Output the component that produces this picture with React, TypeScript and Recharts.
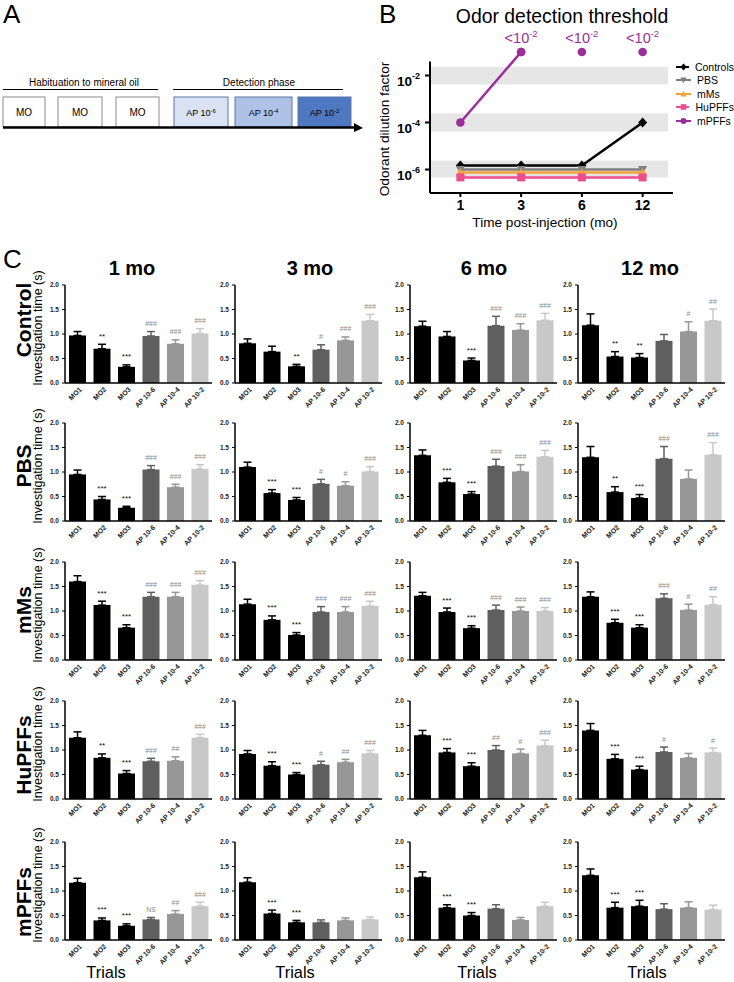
import React from 'react';
import {
  BarChart, Bar, XAxis, YAxis, ErrorBar, LineChart, Line,
  ReferenceArea, ReferenceLine, Legend,
} from 'recharts';

const FONT = '"Liberation Sans", Arial, Helvetica, sans-serif';

// ---------- Panel B data ----------
const TIMEPOINTS = ['1', '3', '6', '12'];
const THR_CONTROLS = [1.48e-6, 1.48e-6, 1.48e-6, 1e-4];
const THR_PBS = [1e-6, 1e-6, 1e-6, 1e-6];
const THR_MMS = [7.4e-7, 7.4e-7, 7.4e-7, 7.4e-7];
const THR_HUPFFS = [4.6e-7, 4.6e-7, 4.6e-7, 4.6e-7];
const THR_MPFFS = [1e-4, 0.1, 0.1, 0.1];
const THR_MPFFS_OFFSCALE = [false, true, true, true];
const THR_Y_TICKS = [1e-6, 1e-4, 1e-2];
const THR_BANDS = [[-2.38, -1.63], [-4.38, -3.62], [-6.34, -5.62]];
const THR_SERIES = ['Controls', 'PBS', 'mMs', 'HuPFFs', 'mPFFs'];

// ---------- Panel C data ----------
const TRIALS = ['MO1', 'MO2', 'MO3', 'AP 10-6', 'AP 10-4', 'AP 10-2'];
const MONTHS = ['1 mo', '3 mo', '6 mo', '12 mo'];
const Y_TICKS = [0, 0.5, 1, 1.5, 2];

const CONTROL_MEAN = [
  [0.97, 0.70, 0.33, 0.96, 0.80, 1.01],
  [0.81, 0.64, 0.34, 0.68, 0.87, 1.27],
  [1.16, 0.95, 0.46, 1.17, 1.08, 1.28],
  [1.18, 0.54, 0.52, 0.86, 1.05, 1.27],
];
const CONTROL_SEM = [
  [0.08, 0.09, 0.04, 0.09, 0.08, 0.10],
  [0.09, 0.11, 0.04, 0.10, 0.07, 0.13],
  [0.10, 0.10, 0.05, 0.19, 0.13, 0.14],
  [0.23, 0.10, 0.08, 0.13, 0.20, 0.24],
];
const CONTROL_SIG = [
  ['', '**', '***', '###', '###', '###'],
  ['', '', '**', '#', '###', '###'],
  ['', '', '***', '###', '###', '###'],
  ['', '**', '**', '', '#', '##'],
];

const PBS_MEAN = [
  [0.95, 0.44, 0.27, 1.05, 0.69, 1.06],
  [1.10, 0.57, 0.43, 0.76, 0.72, 1.01],
  [1.34, 0.79, 0.55, 1.12, 1.01, 1.31],
  [1.30, 0.59, 0.47, 1.27, 0.86, 1.35],
];
const PBS_SEM = [
  [0.09, 0.06, 0.03, 0.08, 0.06, 0.09],
  [0.10, 0.07, 0.05, 0.09, 0.08, 0.10],
  [0.11, 0.08, 0.05, 0.14, 0.14, 0.13],
  [0.22, 0.11, 0.07, 0.25, 0.18, 0.25],
];
const PBS_SIG = [
  ['', '***', '***', '###', '###', '###'],
  ['', '***', '***', '#', '#', '###'],
  ['', '***', '***', '###', '###', '###'],
  ['', '**', '***', '###', '', '###'],
];

const MMS_MEAN = [
  [1.60, 1.12, 0.66, 1.29, 1.29, 1.53],
  [1.14, 0.82, 0.51, 0.98, 0.98, 1.10],
  [1.31, 0.98, 0.65, 1.02, 1.00, 1.00],
  [1.29, 0.76, 0.66, 1.26, 1.02, 1.13],
];
const MMS_SEM = [
  [0.12, 0.08, 0.06, 0.09, 0.09, 0.09],
  [0.10, 0.08, 0.05, 0.11, 0.11, 0.10],
  [0.07, 0.08, 0.05, 0.10, 0.08, 0.07],
  [0.10, 0.07, 0.06, 0.09, 0.12, 0.16],
];
const MMS_SIG = [
  ['', '***', '***', '###', '###', '###'],
  ['', '***', '***', '###', '###', '###'],
  ['', '***', '***', '###', '###', '###'],
  ['', '***', '***', '###', '#', '##'],
];

const HUPFFS_MEAN = [
  [1.25, 0.84, 0.52, 0.77, 0.78, 1.25],
  [0.92, 0.68, 0.50, 0.70, 0.75, 0.93],
  [1.30, 0.95, 0.67, 1.00, 0.93, 1.09],
  [1.40, 0.82, 0.60, 0.96, 0.84, 0.95],
];
const HUPFFS_SEM = [
  [0.12, 0.08, 0.06, 0.06, 0.08, 0.07],
  [0.07, 0.08, 0.04, 0.07, 0.06, 0.06],
  [0.10, 0.08, 0.07, 0.09, 0.09, 0.11],
  [0.14, 0.09, 0.07, 0.10, 0.09, 0.09],
];
const HUPFFS_SIG = [
  ['', '**', '***', '###', '##', '###'],
  ['', '***', '***', '#', '##', '###'],
  ['', '***', '***', '##', '#', '###'],
  ['', '***', '***', '#', '', '#'],
];

const MPFFS_MEAN = [
  [1.17, 0.40, 0.29, 0.42, 0.53, 0.69],
  [1.18, 0.54, 0.36, 0.36, 0.40, 0.42],
  [1.28, 0.66, 0.50, 0.64, 0.41, 0.69],
  [1.32, 0.66, 0.69, 0.63, 0.66, 0.62],
];
const MPFFS_SEM = [
  [0.09, 0.05, 0.04, 0.04, 0.07, 0.08],
  [0.09, 0.07, 0.04, 0.05, 0.05, 0.05],
  [0.11, 0.06, 0.06, 0.08, 0.05, 0.08],
  [0.13, 0.11, 0.12, 0.11, 0.12, 0.09],
];
const MPFFS_SIG = [
  ['', '***', '***', 'NS', '##', '###'],
  ['', '***', '***', '', '', ''],
  ['', '***', '***', '', '', ''],
  ['', '***', '***', '', '', ''],
];

const GROUPS = [
  { label: 'Control', mean: CONTROL_MEAN, sem: CONTROL_SEM, sig: CONTROL_SIG },
  { label: 'PBS', mean: PBS_MEAN, sem: PBS_SEM, sig: PBS_SIG },
  { label: 'mMs', mean: MMS_MEAN, sem: MMS_SEM, sig: MMS_SIG },
  { label: 'HuPFFs', mean: HUPFFS_MEAN, sem: HUPFFS_SEM, sig: HUPFFS_SIG },
  { label: 'mPFFs', mean: MPFFS_MEAN, sem: MPFFS_SEM, sig: MPFFS_SIG },
];

// ---------- layout ----------
const COL_AXIS = [65, 235, 410, 578];
const ROW_BOTTOM = [383, 521, 660, 799, 940];
const ROW_LABEL_Y = [320, 466, 610, 755, 902];
const COL_TITLE_X = [132, 310, 484, 650];
const TRIALS_X = [106, 295, 477, 647];
const PLOT_W = 147;
const PLOT_H = 98;
const CW = 30 + PLOT_W + 6;
const CH = 6 + PLOT_H + 32;
const BAR_W = 17;

const BAR_COLORS = ['#000000', '#5f5f5f', '#979797', '#c8c8c8'];
const SERIES_KEYS = ['mo', 'ap6', 'ap4', 'ap2'];
const seriesOf = (i: number) => (i < 3 ? 0 : i - 2);

function TrialTick(p: any) {
  const x = Number(p.x);
  const y = Number(p.y);
  const v = p.payload ? p.payload.value : '';
  return (
    <g transform={`translate(${x + 5},${y + 5}) rotate(-45)`}>
      <text x={0} y={0} textAnchor="end" fontSize={7} fontWeight="bold" fill="#222" fontFamily={FONT}>
        {v}
      </text>
    </g>
  );
}

function SigMark(p: any) {
  const s = p.payload && p.payload.sig;
  if (!s) return <g />;
  const isStar = s.charAt(0) === '*';
  const x = Number(p.x) + Number(p.width) / 2;
  const y = Number(p.y) - 5.5;
  return (
    <text x={x} y={y} textAnchor="middle" fontSize={isStar ? 8 : 7} fill={isStar ? '#111' : '#8c8c8c'} fontFamily={FONT}>
      {s}
    </text>
  );
}

function TrialChart({ mean, sem, sig, left, top }: any) {
  const data = TRIALS.map((name, i) => {
    const row: any = { name, ann: mean[i] + sem[i], sig: sig[i] };
    SERIES_KEYS.forEach((k, s) => {
      row[k] = seriesOf(i) === s ? mean[i] : null;
      row[k + 'Err'] = seriesOf(i) === s ? [0, sem[i]] : null;
    });
    return row;
  });
  return (
    <div style={{ position: 'absolute', left, top }}>
      <BarChart
        width={CW}
        height={CH}
        data={data}
        barGap={-BAR_W}
        margin={{ top: 6, right: 6, left: 4, bottom: 0 }}
      >
        <XAxis
          dataKey="name"
          type="category"
          interval={0}
          axisLine={{ stroke: '#000', strokeWidth: 1.5 }}
          tickLine={false}
          tickSize={2}
          tickMargin={0}
          height={32}
          tick={(p: any) => <TrialTick {...p} />}
        />
        <YAxis
          type="number"
          domain={[0, 2]}
          ticks={Y_TICKS}
          interval={0}
          width={26}
          axisLine={{ stroke: '#000', strokeWidth: 1.5 }}
          tickLine={{ stroke: '#000', strokeWidth: 1 }}
          tickSize={3}
          tickMargin={3}
          tickFormatter={(v: number) => v.toFixed(1)}
          tick={{ fontSize: 6.5, fontWeight: 'bold', fill: '#222', fontFamily: FONT }}
        />
        {SERIES_KEYS.map((k, s) => (
          <Bar key={k} dataKey={k} fill={BAR_COLORS[s]} barSize={BAR_W} isAnimationActive={false}>
            <ErrorBar dataKey={k + 'Err'} width={4} stroke={BAR_COLORS[s]} strokeWidth={1.5} direction="y" isAnimationActive={false} />
          </Bar>
        ))}
        <Bar
          dataKey="ann"
          fill="none"
          barSize={BAR_W}
          isAnimationActive={false}
          shape={(p: any) => <SigMark {...p} />}
        />
      </BarChart>
    </div>
  );
}

// ---------- Panel B ----------
const SERIES_STYLE: any = {
  Controls: { color: '#000000', shape: 'diamond' },
  PBS: { color: '#7f7f7f', shape: 'down' },
  mMs: { color: '#f2a33a', shape: 'up' },
  HuPFFs: { color: '#ee4d8d', shape: 'square' },
  mPFFs: { color: '#9a2e9a', shape: 'circle' },
};

function Marker({ shape, cx, cy, color, s = 1 }: any) {
  if (cx == null || cy == null || isNaN(cx) || isNaN(cy)) return <g />;
  switch (shape) {
    case 'diamond':
      return <polygon points={`${cx},${cy - 5 * s} ${cx + 4.5 * s},${cy} ${cx},${cy + 5 * s} ${cx - 4.5 * s},${cy}`} fill={color} />;
    case 'down':
      return <polygon points={`${cx - 4.5 * s},${cy - 3.5 * s} ${cx + 4.5 * s},${cy - 3.5 * s} ${cx},${cy + 4.5 * s}`} fill={color} />;
    case 'up':
      return <polygon points={`${cx - 4.5 * s},${cy + 3.5 * s} ${cx + 4.5 * s},${cy + 3.5 * s} ${cx},${cy - 4.5 * s}`} fill={color} />;
    case 'square':
      return <rect x={cx - 4 * s} y={cy - 4 * s} width={8 * s} height={8 * s} fill={color} />;
    default:
      return <circle cx={cx} cy={cy} r={4.3 * s} fill={color} />;
  }
}

function PowTick(p: any) {
  const x = Number(p.x);
  const y = Number(p.y);
  const e = Math.round(Math.log10(p.payload.value));
  return (
    <text x={x} y={y + 10} textAnchor="end" fontSize={13.5} fontWeight="bold" fill="#000" fontFamily={FONT}>
      10<tspan fontSize={9} dy={-7}>{String(e)}</tspan>
    </text>
  );
}

function OffscaleDot(p: any) {
  const { cx, cy, value } = p;
  if (value == null || cy == null || isNaN(cy)) return <g key={p.index} />;
  const c = SERIES_STYLE.mPFFs.color;
  return (
    <g key={p.index}>
      <circle cx={cx} cy={cy} r={4.3} fill={c} />
      <text x={cx} y={cy - 9} textAnchor="middle" fontSize={14.5} fill={c} fontFamily={FONT}>
        {'<10'}<tspan fontSize={9.5} dy={-6}>-2</tspan>
      </text>
    </g>
  );
}

function renderLegend(props: any) {
  const payload = (props.payload || []).slice().sort(
    (a: any, b: any) => THR_SERIES.indexOf(a.value) - THR_SERIES.indexOf(b.value)
  );
  return (
    <div style={{ fontFamily: FONT, fontSize: 10.5, color: '#000' }}>
      {payload.map((item: any) => {
        const st = SERIES_STYLE[item.value];
        if (!st) return null;
        return (
          <div key={item.value} style={{ display: 'flex', alignItems: 'center', height: 13.5, whiteSpace: 'nowrap' }}>
            <svg width={15} height={10} style={{ display: 'block' }}>
              <line x1={0} y1={5} x2={15} y2={5} stroke={st.color} strokeWidth={2} />
              <Marker shape={st.shape} cx={7.5} cy={5} color={st.color} s={0.7} />
            </svg>
            <span style={{ marginLeft: 6 }}>{item.value}</span>
          </div>
        );
      })}
    </div>
  );
}

function ThresholdChart() {
  const data = TIMEPOINTS.map((t, i) => ({
    idx: i,
    Controls: THR_CONTROLS[i],
    PBS: THR_PBS[i],
    mMs: THR_MMS[i],
    HuPFFs: THR_HUPFFS[i],
    mPFFs: !THR_MPFFS_OFFSCALE[i] || (i > 0 && !THR_MPFFS_OFFSCALE[i - 1]) ? THR_MPFFS[i] : null,
    mPFFsOff: THR_MPFFS_OFFSCALE[i] ? THR_MPFFS[i] : null,
  }));
  return (
    <div style={{ position: 'absolute', left: 370, top: 0 }}>
      <LineChart width={364} height={235} data={data} margin={{ top: 28.5, right: 61, left: 15, bottom: 12 }}>
        <XAxis
          dataKey="idx"
          type="number"
          domain={[-0.5, 3.5]}
          allowDataOverflow
          ticks={[0, 1, 2, 3]}
          interval={0}
          tickFormatter={(v: number) => TIMEPOINTS[v]}
          axisLine={{ stroke: '#000', strokeWidth: 2 }}
          tickLine={{ stroke: '#000', strokeWidth: 2 }}
          tickSize={4}
          tickMargin={3}
          height={30}
          tick={{ fontSize: 14, fontWeight: 'bold', fill: '#000', fontFamily: FONT }}
        />
        <YAxis
          type="number"
          scale="log"
          domain={[1e-7, 1]}
          allowDataOverflow
          ticks={THR_Y_TICKS}
          interval={0}
          axisLine={false}
          tickLine={{ stroke: '#000', strokeWidth: 2 }}
          tickSize={5}
          tickMargin={5}
          width={45}
          tick={(p: any) => <PowTick {...p} />}
        />
        {THR_BANDS.map((b, i) => (
          <ReferenceArea key={i} x1={-0.5} x2={3.42} y1={Math.pow(10, b[0])} y2={Math.pow(10, b[1])} fill="#e6e6e6" fillOpacity={1} stroke="none" ifOverflow="visible" />
        ))}
        <ReferenceLine segment={[{ x: -0.5, y: 1e-7 }, { x: -0.5, y: Math.pow(10, -1.4) }]} stroke="#000" strokeWidth={2} ifOverflow="visible" />
        {THR_SERIES.map((n) => (
          <Line
            key={n}
            name={n}
            dataKey={n}
            stroke={SERIES_STYLE[n].color}
            strokeWidth={2.5}
            isAnimationActive={false}
            connectNulls={false}
            dot={(p: any) => <Marker key={p.index} shape={SERIES_STYLE[n].shape} cx={p.cx} cy={p.cy} color={SERIES_STYLE[n].color} />}
            activeDot={false}
          />
        ))}
        <Line
          dataKey="mPFFsOff"
          stroke="none"
          legendType="none"
          isAnimationActive={false}
          dot={(p: any) => <OffscaleDot {...p} />}
          activeDot={false}
        />
        <Legend
          layout="vertical"
          align="center"
          verticalAlign="middle"
          wrapperStyle={{ left: 306, top: 60, width: 58, height: 70, overflow: 'hidden' }}
          content={renderLegend}
        />
      </LineChart>
    </div>
  );
}

// ---------- static text / schematic ----------
function Overlay() {
  const moBoxes = [[3, 45], [58, 102], [116, 159]];
  const apBoxes = [
    { x: [174, 228], fill: '#d8e2f3', exp: '-6' },
    { x: [235, 292], fill: '#adc2e6', exp: '-4' },
    { x: [298, 351], fill: '#4f78c2', exp: '-2' },
  ];
  return (
    <svg width={734} height={982} style={{ position: 'absolute', left: 0, top: 0 }} fontFamily={FONT}>
      <text x={3} y={23} fontSize={26}>A</text>
      <text x={379} y={23} fontSize={26}>B</text>
      <text x={3} y={268} fontSize={26}>C</text>

      {/* Panel A schematic */}
      <text x={84} y={86} fontSize={10} textAnchor="middle">Habituation to mineral oil</text>
      <line x1={3} y1={89.5} x2={158} y2={89.5} stroke="#000" strokeWidth={1} />
      <text x={259} y={86} fontSize={10} textAnchor="middle">Detection phase</text>
      <line x1={173} y1={89.5} x2={343} y2={89.5} stroke="#000" strokeWidth={1} />
      {moBoxes.map((b, i) => (
        <g key={i}>
          <rect x={b[0]} y={97} width={b[1] - b[0]} height={30} fill="#fff" stroke="#8a8a8a" strokeWidth={1} />
          <text x={(b[0] + b[1]) / 2} y={116} fontSize={10} textAnchor="middle">MO</text>
        </g>
      ))}
      {apBoxes.map((b, i) => (
        <g key={i}>
          <rect x={b.x[0]} y={97} width={b.x[1] - b.x[0]} height={30} fill={b.fill} stroke="#5a77a6" strokeWidth={1} />
          <text x={(b.x[0] + b.x[1]) / 2} y={116} fontSize={9} textAnchor="middle">
            AP 10<tspan fontSize={6} dy={-3.5}>{b.exp}</tspan>
          </text>
        </g>
      ))}
      <line x1={3} y1={127.5} x2={356} y2={127.5} stroke="#000" strokeWidth={2.5} />
      <polygon points="354,123 363,128 354,132" fill="#000" />

      {/* Panel B text */}
      <text x={562} y={23} fontSize={19.4} textAnchor="middle">Odor detection threshold</text>
      <text transform="translate(389,129) rotate(-90)" fontSize={13.7} textAnchor="middle">Odorant dilution factor</text>
      <text x={545} y={227} fontSize={13.6} textAnchor="middle">Time post-injection (mo)</text>

      {/* Panel C text */}
      {MONTHS.map((m, c) => (
        <text key={m} x={COL_TITLE_X[c]} y={275} fontSize={20} fontWeight="bold" textAnchor="middle">{m}</text>
      ))}
      {GROUPS.map((g, r) => (
        <g key={g.label}>
          <text transform={`translate(31,${ROW_LABEL_Y[r]}) rotate(-90)`} fontSize={21} fontWeight="bold" textAnchor="middle">{g.label}</text>
          <text transform={`translate(41.5,${ROW_BOTTOM[r] - PLOT_H / 2 - 6}) rotate(-90)`} fontSize={12.5} textAnchor="middle">Investigation time (s)</text>
        </g>
      ))}
      {TRIALS_X.map((x, c) => (
        <text key={c} x={x} y={978} fontSize={16.4} textAnchor="middle">Trials</text>
      ))}
    </svg>
  );
}

export default function App() {
  return (
    <div style={{ position: 'absolute', left: 0, top: 0, width: 734, height: 982, background: '#fff', overflow: 'hidden', fontFamily: FONT }}>
      <Overlay />
      <ThresholdChart />
      {GROUPS.map((g, r) =>
        MONTHS.map((m, c) => (
          <TrialChart
            key={g.label + m}
            mean={g.mean[c]}
            sem={g.sem[c]}
            sig={g.sig[c]}
            left={COL_AXIS[c] - 30}
            top={ROW_BOTTOM[r] - PLOT_H - 6}
          />
        ))
      )}
    </div>
  );
}
